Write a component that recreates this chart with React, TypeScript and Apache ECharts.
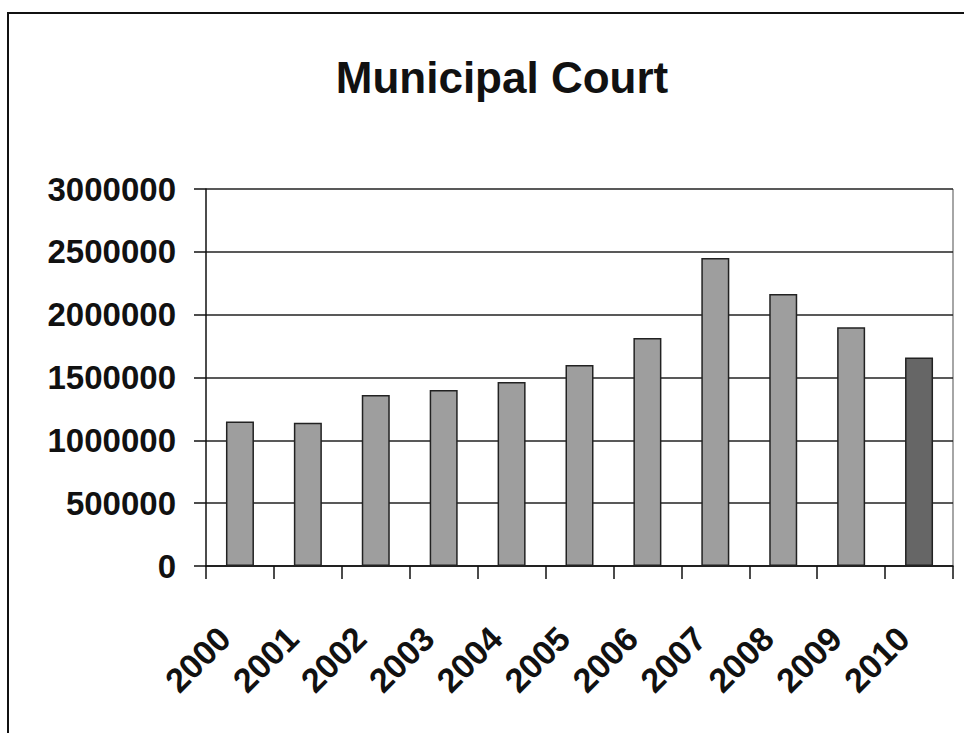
import React, { useEffect, useRef } from "react";
import * as echarts from "echarts";

const titleText = "Municipal Court";
const years = ["2000", "2001", "2002", "2003", "2004", "2005", "2006", "2007", "2008", "2009", "2010"];
const values = [1150000, 1140000, 1360000, 1400000, 1465000, 1600000, 1815000, 2450000, 2165000, 1900000, 1660000];
const yMin = 0;
const yMax = 3000000;
const yInterval = 500000;

export default function App() {
  const ref = useRef<HTMLDivElement>(null);
  useEffect(() => {
    if (!ref.current) return;
    const chart = echarts.init(ref.current, null, { renderer: "svg" });
    const font = "'Liberation Sans', Arial, sans-serif";
    chart.setOption({
      animation: false,
      backgroundColor: "#ffffff",
      title: {
        text: titleText,
        left: 497,
        textAlign: "center",
        top: 50,
        textStyle: { fontFamily: font, fontWeight: "bold", fontSize: 44, color: "#111" },
      },
      graphic: [
        {
          type: "polyline",
          shape: { points: [[8, 733], [8, 13], [964, 13]] },
          style: { stroke: "#111", lineWidth: 2, fill: "none" },
          silent: true,
        },
        {
          type: "line",
          shape: { x1: 953, y1: 189, x2: 953, y2: 566 },
          style: { stroke: "#888", lineWidth: 1.5 },
          silent: true,
        },
      ],
      grid: { left: 206, right: 11, top: 189, bottom: 167, containLabel: false },
      xAxis: {
        type: "category",
        data: years,
        axisLine: { show: true, lineStyle: { color: "#111", width: 1.5 } },
        axisTick: { show: true, alignWithLabel: false, length: 13, lineStyle: { color: "#111", width: 1.5 } },
        axisLabel: {
          rotate: 45,
          margin: 51,
          padding: [0, 22, 0, 0],
          fontFamily: font,
          fontWeight: "bold",
          fontSize: 34,
          color: "#111",
          interval: 0,
        },
      },
      yAxis: {
        type: "value",
        min: yMin,
        max: yMax,
        interval: yInterval,
        axisLine: { show: true, lineStyle: { color: "#111", width: 1.5 } },
        axisTick: { show: true, length: 12, lineStyle: { color: "#111", width: 1.5 } },
        axisLabel: {
          margin: 30,
          fontFamily: font,
          fontWeight: "bold",
          fontSize: 33,
          color: "#111",
          formatter: (v: number) => String(v),
        },
        splitLine: { show: true, lineStyle: { color: "#222", width: 1.5 } },
      },
      series: [
        {
          type: "bar",
          data: values.map((v, i) => ({
            value: v,
            itemStyle: { color: i === values.length - 1 ? "#666666" : "#9e9e9e" },
          })),
          barWidth: 28,
          itemStyle: { borderColor: "#222", borderWidth: 1.5 },
        },
      ],
    });
    return () => chart.dispose();
  }, []);
  return (
    <div
      ref={ref}
      style={{ position: "fixed", left: 0, top: 0, width: 964, height: 733, background: "#fff" }}
    />
  );
}
